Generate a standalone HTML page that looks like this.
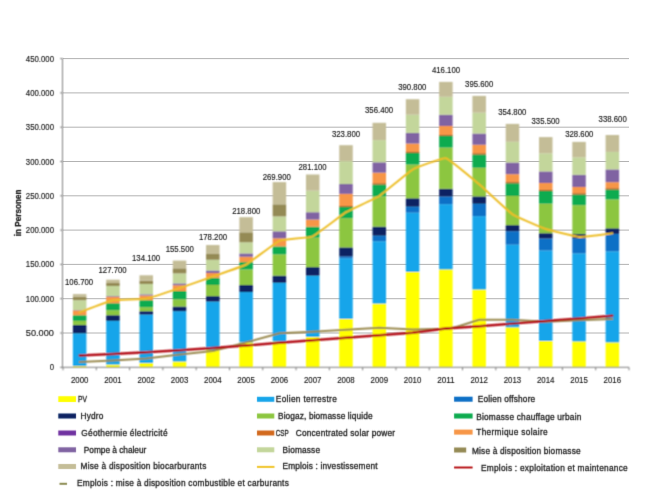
<!DOCTYPE html>
<html lang="fr"><head><meta charset="utf-8"><title>Emplois énergies renouvelables</title>
<style>html,body{margin:0;padding:0;background:#fff;}svg{display:block;}</style></head>
<body>
<svg width="663" height="497" viewBox="0 0 663 497" font-family="'Liberation Sans', sans-serif">
<rect width="663" height="497" fill="#ffffff"/>
<defs><filter id="soft" x="-2%" y="-2%" width="104%" height="104%"><feConvolveMatrix order="3" kernelMatrix="1 2 1 2 4 2 1 2 1" edgeMode="duplicate"/></filter><filter id="soft2" x="-2%" y="-2%" width="104%" height="104%"><feConvolveMatrix order="3" kernelMatrix="0 1 0 1 6 1 0 1 0" edgeMode="duplicate"/></filter></defs>
<line x1="63.0" x2="629.0" y1="333.00" y2="333.00" stroke="#b2b2b2" stroke-width="1"/>
<line x1="63.0" x2="629.0" y1="298.70" y2="298.70" stroke="#b2b2b2" stroke-width="1"/>
<line x1="63.0" x2="629.0" y1="264.40" y2="264.40" stroke="#b2b2b2" stroke-width="1"/>
<line x1="63.0" x2="629.0" y1="230.10" y2="230.10" stroke="#b2b2b2" stroke-width="1"/>
<line x1="63.0" x2="629.0" y1="195.80" y2="195.80" stroke="#b2b2b2" stroke-width="1"/>
<line x1="63.0" x2="629.0" y1="161.50" y2="161.50" stroke="#b2b2b2" stroke-width="1"/>
<line x1="63.0" x2="629.0" y1="127.20" y2="127.20" stroke="#b2b2b2" stroke-width="1"/>
<line x1="63.0" x2="629.0" y1="92.90" y2="92.90" stroke="#b2b2b2" stroke-width="1"/>
<line x1="63.0" x2="629.0" y1="58.60" y2="58.60" stroke="#b2b2b2" stroke-width="1"/>
<g filter="url(#soft)">
<g shape-rendering="auto">
<rect x="72.90" y="366.00" width="13.5" height="1.30" fill="#ffff00"/>
<rect x="72.90" y="333.30" width="13.5" height="32.70" fill="#16a5ea"/>
<rect x="72.90" y="324.90" width="13.5" height="8.40" fill="#082262"/>
<rect x="72.90" y="320.90" width="13.5" height="4.00" fill="#8cc63f"/>
<rect x="72.90" y="315.20" width="13.5" height="5.70" fill="#0cab4f"/>
<rect x="72.90" y="310.40" width="13.5" height="4.80" fill="#f79646"/>
<rect x="72.90" y="310.00" width="13.5" height="0.40" fill="#8064a2"/>
<rect x="72.90" y="300.20" width="13.5" height="9.80" fill="#c3d69b"/>
<rect x="72.90" y="296.70" width="13.5" height="3.50" fill="#948a54"/>
<rect x="72.90" y="294.10" width="13.5" height="2.60" fill="#c4bd97"/>
<rect x="106.19" y="364.60" width="13.5" height="2.70" fill="#ffff00"/>
<rect x="106.19" y="320.90" width="13.5" height="43.70" fill="#16a5ea"/>
<rect x="106.19" y="315.20" width="13.5" height="5.70" fill="#082262"/>
<rect x="106.19" y="310.20" width="13.5" height="5.00" fill="#8cc63f"/>
<rect x="106.19" y="303.20" width="13.5" height="7.00" fill="#0cab4f"/>
<rect x="106.19" y="296.90" width="13.5" height="6.30" fill="#f79646"/>
<rect x="106.19" y="296.10" width="13.5" height="0.80" fill="#8064a2"/>
<rect x="106.19" y="286.00" width="13.5" height="10.10" fill="#c3d69b"/>
<rect x="106.19" y="283.00" width="13.5" height="3.00" fill="#948a54"/>
<rect x="106.19" y="279.70" width="13.5" height="3.30" fill="#c4bd97"/>
<rect x="139.49" y="363.10" width="13.5" height="4.20" fill="#ffff00"/>
<rect x="139.49" y="314.60" width="13.5" height="48.50" fill="#16a5ea"/>
<rect x="139.49" y="311.20" width="13.5" height="3.40" fill="#082262"/>
<rect x="139.49" y="307.20" width="13.5" height="4.00" fill="#8cc63f"/>
<rect x="139.49" y="300.20" width="13.5" height="7.00" fill="#0cab4f"/>
<rect x="139.49" y="295.50" width="13.5" height="4.70" fill="#f79646"/>
<rect x="139.49" y="294.30" width="13.5" height="1.20" fill="#8064a2"/>
<rect x="139.49" y="284.00" width="13.5" height="10.30" fill="#c3d69b"/>
<rect x="139.49" y="280.60" width="13.5" height="3.40" fill="#948a54"/>
<rect x="139.49" y="275.30" width="13.5" height="5.30" fill="#c4bd97"/>
<rect x="172.78" y="361.50" width="13.5" height="5.80" fill="#ffff00"/>
<rect x="172.78" y="311.20" width="13.5" height="50.30" fill="#16a5ea"/>
<rect x="172.78" y="306.50" width="13.5" height="4.70" fill="#082262"/>
<rect x="172.78" y="299.30" width="13.5" height="7.20" fill="#8cc63f"/>
<rect x="172.78" y="291.00" width="13.5" height="8.30" fill="#0cab4f"/>
<rect x="172.78" y="285.20" width="13.5" height="5.80" fill="#f79646"/>
<rect x="172.78" y="283.40" width="13.5" height="1.80" fill="#8064a2"/>
<rect x="172.78" y="273.40" width="13.5" height="10.00" fill="#c3d69b"/>
<rect x="172.78" y="268.30" width="13.5" height="5.10" fill="#948a54"/>
<rect x="172.78" y="260.60" width="13.5" height="7.70" fill="#c4bd97"/>
<rect x="206.07" y="349.80" width="13.5" height="17.50" fill="#ffff00"/>
<rect x="206.07" y="301.60" width="13.5" height="48.20" fill="#16a5ea"/>
<rect x="206.07" y="296.10" width="13.5" height="5.50" fill="#082262"/>
<rect x="206.07" y="285.00" width="13.5" height="11.10" fill="#8cc63f"/>
<rect x="206.07" y="277.80" width="13.5" height="7.20" fill="#0cab4f"/>
<rect x="206.07" y="273.00" width="13.5" height="4.80" fill="#f79646"/>
<rect x="206.07" y="270.50" width="13.5" height="2.50" fill="#8064a2"/>
<rect x="206.07" y="259.80" width="13.5" height="10.70" fill="#c3d69b"/>
<rect x="206.07" y="254.00" width="13.5" height="5.80" fill="#948a54"/>
<rect x="206.07" y="245.05" width="13.5" height="8.95" fill="#c4bd97"/>
<rect x="239.37" y="342.40" width="13.5" height="24.90" fill="#ffff00"/>
<rect x="239.37" y="292.10" width="13.5" height="50.30" fill="#16a5ea"/>
<rect x="239.37" y="285.00" width="13.5" height="7.10" fill="#082262"/>
<rect x="239.37" y="269.50" width="13.5" height="15.50" fill="#8cc63f"/>
<rect x="239.37" y="262.10" width="13.5" height="7.40" fill="#0cab4f"/>
<rect x="239.37" y="256.80" width="13.5" height="5.30" fill="#f79646"/>
<rect x="239.37" y="253.40" width="13.5" height="3.40" fill="#8064a2"/>
<rect x="239.37" y="242.30" width="13.5" height="11.10" fill="#c3d69b"/>
<rect x="239.37" y="232.30" width="13.5" height="10.00" fill="#948a54"/>
<rect x="239.37" y="217.20" width="13.5" height="15.10" fill="#c4bd97"/>
<rect x="272.66" y="341.40" width="13.5" height="25.90" fill="#ffff00"/>
<rect x="272.66" y="282.80" width="13.5" height="58.60" fill="#16a5ea"/>
<rect x="272.66" y="275.60" width="13.5" height="7.20" fill="#082262"/>
<rect x="272.66" y="254.40" width="13.5" height="21.20" fill="#8cc63f"/>
<rect x="272.66" y="246.40" width="13.5" height="8.00" fill="#0cab4f"/>
<rect x="272.66" y="238.30" width="13.5" height="8.10" fill="#f79646"/>
<rect x="272.66" y="231.30" width="13.5" height="7.00" fill="#8064a2"/>
<rect x="272.66" y="216.40" width="13.5" height="14.90" fill="#c3d69b"/>
<rect x="272.66" y="204.30" width="13.5" height="12.10" fill="#948a54"/>
<rect x="272.66" y="182.10" width="13.5" height="22.20" fill="#c4bd97"/>
<rect x="305.96" y="337.00" width="13.5" height="30.30" fill="#ffff00"/>
<rect x="305.96" y="275.70" width="13.5" height="61.30" fill="#16a5ea"/>
<rect x="305.96" y="267.10" width="13.5" height="8.60" fill="#082262"/>
<rect x="305.96" y="237.70" width="13.5" height="29.40" fill="#8cc63f"/>
<rect x="305.96" y="226.70" width="13.5" height="11.00" fill="#0cab4f"/>
<rect x="305.96" y="219.60" width="13.5" height="7.10" fill="#f79646"/>
<rect x="305.96" y="212.20" width="13.5" height="7.40" fill="#8064a2"/>
<rect x="305.96" y="190.70" width="13.5" height="21.50" fill="#c3d69b"/>
<rect x="305.96" y="174.50" width="13.5" height="16.20" fill="#c4bd97"/>
<rect x="339.25" y="318.90" width="13.5" height="48.40" fill="#ffff00"/>
<rect x="339.25" y="258.40" width="13.5" height="60.50" fill="#16a5ea"/>
<rect x="339.25" y="256.40" width="13.5" height="2.00" fill="#0f6fc6"/>
<rect x="339.25" y="247.40" width="13.5" height="9.00" fill="#082262"/>
<rect x="339.25" y="218.20" width="13.5" height="29.20" fill="#8cc63f"/>
<rect x="339.25" y="207.00" width="13.5" height="11.20" fill="#0cab4f"/>
<rect x="339.25" y="193.90" width="13.5" height="13.10" fill="#f79646"/>
<rect x="339.25" y="206.30" width="13.5" height="0.7" fill="#6a4a28"/>
<rect x="339.25" y="184.00" width="13.5" height="9.90" fill="#8064a2"/>
<rect x="339.25" y="161.20" width="13.5" height="22.80" fill="#c3d69b"/>
<rect x="339.25" y="145.20" width="13.5" height="16.00" fill="#c4bd97"/>
<rect x="372.54" y="303.60" width="13.5" height="63.70" fill="#ffff00"/>
<rect x="372.54" y="241.30" width="13.5" height="62.30" fill="#16a5ea"/>
<rect x="372.54" y="235.70" width="13.5" height="5.60" fill="#0f6fc6"/>
<rect x="372.54" y="226.60" width="13.5" height="9.10" fill="#082262"/>
<rect x="372.54" y="196.30" width="13.5" height="30.30" fill="#8cc63f"/>
<rect x="372.54" y="184.40" width="13.5" height="11.90" fill="#0cab4f"/>
<rect x="372.54" y="172.70" width="13.5" height="11.70" fill="#f79646"/>
<rect x="372.54" y="183.70" width="13.5" height="0.7" fill="#6a4a28"/>
<rect x="372.54" y="162.30" width="13.5" height="10.40" fill="#8064a2"/>
<rect x="372.54" y="140.10" width="13.5" height="22.20" fill="#c3d69b"/>
<rect x="372.54" y="122.80" width="13.5" height="17.30" fill="#c4bd97"/>
<rect x="405.84" y="271.90" width="13.5" height="95.40" fill="#ffff00"/>
<rect x="405.84" y="212.70" width="13.5" height="59.20" fill="#16a5ea"/>
<rect x="405.84" y="206.70" width="13.5" height="6.00" fill="#0f6fc6"/>
<rect x="405.84" y="198.30" width="13.5" height="8.40" fill="#082262"/>
<rect x="405.84" y="164.60" width="13.5" height="33.70" fill="#8cc63f"/>
<rect x="405.84" y="153.00" width="13.5" height="11.60" fill="#0cab4f"/>
<rect x="405.84" y="143.60" width="13.5" height="9.40" fill="#f79646"/>
<rect x="405.84" y="152.30" width="13.5" height="0.7" fill="#6a4a28"/>
<rect x="405.84" y="132.90" width="13.5" height="10.70" fill="#8064a2"/>
<rect x="405.84" y="114.70" width="13.5" height="18.20" fill="#c3d69b"/>
<rect x="405.84" y="99.20" width="13.5" height="15.50" fill="#c4bd97"/>
<rect x="439.13" y="269.40" width="13.5" height="97.90" fill="#ffff00"/>
<rect x="439.13" y="204.20" width="13.5" height="65.20" fill="#16a5ea"/>
<rect x="439.13" y="196.50" width="13.5" height="7.70" fill="#0f6fc6"/>
<rect x="439.13" y="188.70" width="13.5" height="7.80" fill="#082262"/>
<rect x="439.13" y="147.60" width="13.5" height="41.10" fill="#8cc63f"/>
<rect x="439.13" y="135.80" width="13.5" height="11.80" fill="#0cab4f"/>
<rect x="439.13" y="126.00" width="13.5" height="9.80" fill="#f79646"/>
<rect x="439.13" y="135.10" width="13.5" height="0.7" fill="#6a4a28"/>
<rect x="439.13" y="114.70" width="13.5" height="11.30" fill="#8064a2"/>
<rect x="439.13" y="96.80" width="13.5" height="17.90" fill="#c3d69b"/>
<rect x="439.13" y="81.90" width="13.5" height="14.90" fill="#c4bd97"/>
<rect x="472.43" y="289.50" width="13.5" height="77.80" fill="#ffff00"/>
<rect x="472.43" y="216.10" width="13.5" height="73.40" fill="#16a5ea"/>
<rect x="472.43" y="203.80" width="13.5" height="12.30" fill="#0f6fc6"/>
<rect x="472.43" y="196.40" width="13.5" height="7.40" fill="#082262"/>
<rect x="472.43" y="167.80" width="13.5" height="28.60" fill="#8cc63f"/>
<rect x="472.43" y="154.40" width="13.5" height="13.40" fill="#0cab4f"/>
<rect x="472.43" y="144.80" width="13.5" height="9.60" fill="#f79646"/>
<rect x="472.43" y="153.70" width="13.5" height="0.7" fill="#6a4a28"/>
<rect x="472.43" y="133.50" width="13.5" height="11.30" fill="#8064a2"/>
<rect x="472.43" y="112.70" width="13.5" height="20.80" fill="#c3d69b"/>
<rect x="472.43" y="95.90" width="13.5" height="16.80" fill="#c4bd97"/>
<rect x="505.72" y="327.30" width="13.5" height="40.00" fill="#ffff00"/>
<rect x="505.72" y="244.70" width="13.5" height="82.60" fill="#16a5ea"/>
<rect x="505.72" y="231.20" width="13.5" height="13.50" fill="#0f6fc6"/>
<rect x="505.72" y="225.10" width="13.5" height="6.10" fill="#082262"/>
<rect x="505.72" y="196.00" width="13.5" height="29.10" fill="#8cc63f"/>
<rect x="505.72" y="183.20" width="13.5" height="12.80" fill="#0cab4f"/>
<rect x="505.72" y="174.20" width="13.5" height="9.00" fill="#f79646"/>
<rect x="505.72" y="182.50" width="13.5" height="0.7" fill="#6a4a28"/>
<rect x="505.72" y="162.50" width="13.5" height="11.70" fill="#8064a2"/>
<rect x="505.72" y="141.80" width="13.5" height="20.70" fill="#c3d69b"/>
<rect x="505.72" y="123.90" width="13.5" height="17.90" fill="#c4bd97"/>
<rect x="539.01" y="341.00" width="13.5" height="26.30" fill="#ffff00"/>
<rect x="539.01" y="250.50" width="13.5" height="90.50" fill="#16a5ea"/>
<rect x="539.01" y="238.50" width="13.5" height="12.00" fill="#0f6fc6"/>
<rect x="539.01" y="233.20" width="13.5" height="5.30" fill="#082262"/>
<rect x="539.01" y="203.70" width="13.5" height="29.50" fill="#8cc63f"/>
<rect x="539.01" y="191.00" width="13.5" height="12.70" fill="#0cab4f"/>
<rect x="539.01" y="183.00" width="13.5" height="8.00" fill="#f79646"/>
<rect x="539.01" y="190.30" width="13.5" height="0.7" fill="#6a4a28"/>
<rect x="539.01" y="171.40" width="13.5" height="11.60" fill="#8064a2"/>
<rect x="539.01" y="153.30" width="13.5" height="18.10" fill="#c3d69b"/>
<rect x="539.01" y="137.10" width="13.5" height="16.20" fill="#c4bd97"/>
<rect x="572.31" y="341.40" width="13.5" height="25.90" fill="#ffff00"/>
<rect x="572.31" y="253.40" width="13.5" height="88.00" fill="#16a5ea"/>
<rect x="572.31" y="238.40" width="13.5" height="15.00" fill="#0f6fc6"/>
<rect x="572.31" y="233.90" width="13.5" height="4.50" fill="#082262"/>
<rect x="572.31" y="205.20" width="13.5" height="28.70" fill="#8cc63f"/>
<rect x="572.31" y="194.40" width="13.5" height="10.80" fill="#0cab4f"/>
<rect x="572.31" y="187.00" width="13.5" height="7.40" fill="#f79646"/>
<rect x="572.31" y="193.70" width="13.5" height="0.7" fill="#6a4a28"/>
<rect x="572.31" y="174.80" width="13.5" height="12.20" fill="#8064a2"/>
<rect x="572.31" y="157.30" width="13.5" height="17.50" fill="#c3d69b"/>
<rect x="572.31" y="141.90" width="13.5" height="15.40" fill="#c4bd97"/>
<rect x="605.60" y="342.40" width="13.5" height="24.90" fill="#ffff00"/>
<rect x="605.60" y="251.40" width="13.5" height="91.00" fill="#16a5ea"/>
<rect x="605.60" y="233.90" width="13.5" height="17.50" fill="#0f6fc6"/>
<rect x="605.60" y="228.30" width="13.5" height="5.60" fill="#082262"/>
<rect x="605.60" y="199.50" width="13.5" height="28.80" fill="#8cc63f"/>
<rect x="605.60" y="189.40" width="13.5" height="10.10" fill="#0cab4f"/>
<rect x="605.60" y="182.20" width="13.5" height="7.20" fill="#f79646"/>
<rect x="605.60" y="188.70" width="13.5" height="0.7" fill="#6a4a28"/>
<rect x="605.60" y="169.40" width="13.5" height="12.80" fill="#8064a2"/>
<rect x="605.60" y="151.90" width="13.5" height="17.50" fill="#c3d69b"/>
<rect x="605.60" y="135.00" width="13.5" height="16.90" fill="#c4bd97"/>
</g>
<line x1="62.5" x2="62.5" y1="58.60" y2="367.8" stroke="#808080" stroke-width="1"/>
<line x1="62.5" x2="629.0" y1="367.3" y2="367.3" stroke="#808080" stroke-width="1"/>
<line x1="60.0" x2="63.0" y1="367.30" y2="367.30" stroke="#808080" stroke-width="1"/>
<line x1="60.0" x2="63.0" y1="333.00" y2="333.00" stroke="#808080" stroke-width="1"/>
<line x1="60.0" x2="63.0" y1="298.70" y2="298.70" stroke="#808080" stroke-width="1"/>
<line x1="60.0" x2="63.0" y1="264.40" y2="264.40" stroke="#808080" stroke-width="1"/>
<line x1="60.0" x2="63.0" y1="230.10" y2="230.10" stroke="#808080" stroke-width="1"/>
<line x1="60.0" x2="63.0" y1="195.80" y2="195.80" stroke="#808080" stroke-width="1"/>
<line x1="60.0" x2="63.0" y1="161.50" y2="161.50" stroke="#808080" stroke-width="1"/>
<line x1="60.0" x2="63.0" y1="127.20" y2="127.20" stroke="#808080" stroke-width="1"/>
<line x1="60.0" x2="63.0" y1="92.90" y2="92.90" stroke="#808080" stroke-width="1"/>
<line x1="60.0" x2="63.0" y1="58.60" y2="58.60" stroke="#808080" stroke-width="1"/>
<line x1="63.00" x2="63.00" y1="367.3" y2="370.3" stroke="#808080" stroke-width="1"/>
<line x1="96.29" x2="96.29" y1="367.3" y2="370.3" stroke="#808080" stroke-width="1"/>
<line x1="129.59" x2="129.59" y1="367.3" y2="370.3" stroke="#808080" stroke-width="1"/>
<line x1="162.88" x2="162.88" y1="367.3" y2="370.3" stroke="#808080" stroke-width="1"/>
<line x1="196.18" x2="196.18" y1="367.3" y2="370.3" stroke="#808080" stroke-width="1"/>
<line x1="229.47" x2="229.47" y1="367.3" y2="370.3" stroke="#808080" stroke-width="1"/>
<line x1="262.76" x2="262.76" y1="367.3" y2="370.3" stroke="#808080" stroke-width="1"/>
<line x1="296.06" x2="296.06" y1="367.3" y2="370.3" stroke="#808080" stroke-width="1"/>
<line x1="329.35" x2="329.35" y1="367.3" y2="370.3" stroke="#808080" stroke-width="1"/>
<line x1="362.65" x2="362.65" y1="367.3" y2="370.3" stroke="#808080" stroke-width="1"/>
<line x1="395.94" x2="395.94" y1="367.3" y2="370.3" stroke="#808080" stroke-width="1"/>
<line x1="429.24" x2="429.24" y1="367.3" y2="370.3" stroke="#808080" stroke-width="1"/>
<line x1="462.53" x2="462.53" y1="367.3" y2="370.3" stroke="#808080" stroke-width="1"/>
<line x1="495.82" x2="495.82" y1="367.3" y2="370.3" stroke="#808080" stroke-width="1"/>
<line x1="529.12" x2="529.12" y1="367.3" y2="370.3" stroke="#808080" stroke-width="1"/>
<line x1="562.41" x2="562.41" y1="367.3" y2="370.3" stroke="#808080" stroke-width="1"/>
<line x1="595.71" x2="595.71" y1="367.3" y2="370.3" stroke="#808080" stroke-width="1"/>
<line x1="629.00" x2="629.00" y1="367.3" y2="370.3" stroke="#808080" stroke-width="1"/>
<path d="M79.65,361.90 L112.94,360.50 L146.24,358.50 L179.53,354.50 L212.82,351.00 L246.12,342.40 L279.41,333.30 L312.71,331.70 L346.00,329.70 L379.29,327.70 L412.59,329.40 L445.88,328.70 L455.50,327.30 L479.18,319.80 L512.47,319.80 L545.76,321.70 L579.06,320.30 L612.35,318.90" fill="none" stroke="#9a8a50" stroke-width="2" stroke-linejoin="round" stroke-linecap="round"/>
<path d="M79.65,355.50 L112.94,354.00 L146.24,352.30 L179.53,350.30 L212.82,348.00 L246.12,345.50 L279.41,342.80 L312.71,340.30 L346.00,337.80 L379.29,335.20 L412.59,332.70 L445.88,328.50 L479.18,326.20 L512.47,323.60 L545.76,321.00 L579.06,318.40 L612.35,315.80" fill="none" stroke="#b41018" stroke-width="2.4" stroke-linejoin="round" stroke-linecap="round"/>
<path d="M79.65,312.20 C81.31,311.60 109.61,300.88 112.94,300.20 C116.27,299.52 142.91,299.31 146.24,298.70 C149.56,298.09 176.20,289.21 179.53,288.10 C182.86,286.99 209.49,277.68 212.82,276.50 C216.15,275.32 242.79,266.29 246.12,264.50 C249.45,262.71 276.08,242.21 279.41,240.80 C282.74,239.39 309.38,237.73 312.71,236.30 C316.04,234.87 342.67,214.21 346.00,212.20 C349.33,210.19 375.96,198.13 379.29,196.00 C382.62,193.87 409.26,171.49 412.59,169.60 C415.92,167.71 442.55,157.46 445.88,158.20 C449.21,158.94 475.85,181.50 479.18,184.30 C482.51,187.11 509.14,212.06 512.47,214.30 C515.80,216.54 542.44,227.87 545.76,229.00 C549.09,230.13 575.73,236.69 579.06,236.90 C582.39,237.12 610.69,233.48 612.35,233.30" fill="none" stroke="#edbe26" stroke-width="2" stroke-linejoin="round" stroke-linecap="round"/>
</g>
<g filter="url(#soft2)">
<text x="49.70" y="370.30" font-size="8.6" fill="#1a1a1a" stroke="#1a1a1a" stroke-width="0.15" textLength="4.3" lengthAdjust="spacingAndGlyphs">0</text>
<text x="25.80" y="336.00" font-size="8.6" fill="#1a1a1a" stroke="#1a1a1a" stroke-width="0.15" textLength="28.2" lengthAdjust="spacingAndGlyphs">50.000</text>
<text x="25.80" y="301.70" font-size="8.6" fill="#1a1a1a" stroke="#1a1a1a" stroke-width="0.15" textLength="28.2" lengthAdjust="spacingAndGlyphs">100.000</text>
<text x="25.80" y="267.40" font-size="8.6" fill="#1a1a1a" stroke="#1a1a1a" stroke-width="0.15" textLength="28.2" lengthAdjust="spacingAndGlyphs">150.000</text>
<text x="25.80" y="233.10" font-size="8.6" fill="#1a1a1a" stroke="#1a1a1a" stroke-width="0.15" textLength="28.2" lengthAdjust="spacingAndGlyphs">200.000</text>
<text x="25.80" y="198.80" font-size="8.6" fill="#1a1a1a" stroke="#1a1a1a" stroke-width="0.15" textLength="28.2" lengthAdjust="spacingAndGlyphs">250.000</text>
<text x="25.80" y="164.50" font-size="8.6" fill="#1a1a1a" stroke="#1a1a1a" stroke-width="0.15" textLength="28.2" lengthAdjust="spacingAndGlyphs">300.000</text>
<text x="25.80" y="130.20" font-size="8.6" fill="#1a1a1a" stroke="#1a1a1a" stroke-width="0.15" textLength="28.2" lengthAdjust="spacingAndGlyphs">350.000</text>
<text x="25.80" y="95.90" font-size="8.6" fill="#1a1a1a" stroke="#1a1a1a" stroke-width="0.15" textLength="28.2" lengthAdjust="spacingAndGlyphs">400.000</text>
<text x="25.80" y="61.60" font-size="8.6" fill="#1a1a1a" stroke="#1a1a1a" stroke-width="0.15" textLength="28.2" lengthAdjust="spacingAndGlyphs">450.000</text>
<text x="70.90" y="382.60" font-size="8.6" fill="#1a1a1a" stroke="#1a1a1a" stroke-width="0.15" textLength="17.5" lengthAdjust="spacingAndGlyphs">2000</text>
<text x="104.19" y="382.60" font-size="8.6" fill="#1a1a1a" stroke="#1a1a1a" stroke-width="0.15" textLength="17.5" lengthAdjust="spacingAndGlyphs">2001</text>
<text x="137.49" y="382.60" font-size="8.6" fill="#1a1a1a" stroke="#1a1a1a" stroke-width="0.15" textLength="17.5" lengthAdjust="spacingAndGlyphs">2002</text>
<text x="170.78" y="382.60" font-size="8.6" fill="#1a1a1a" stroke="#1a1a1a" stroke-width="0.15" textLength="17.5" lengthAdjust="spacingAndGlyphs">2003</text>
<text x="204.07" y="382.60" font-size="8.6" fill="#1a1a1a" stroke="#1a1a1a" stroke-width="0.15" textLength="17.5" lengthAdjust="spacingAndGlyphs">2004</text>
<text x="237.37" y="382.60" font-size="8.6" fill="#1a1a1a" stroke="#1a1a1a" stroke-width="0.15" textLength="17.5" lengthAdjust="spacingAndGlyphs">2005</text>
<text x="270.66" y="382.60" font-size="8.6" fill="#1a1a1a" stroke="#1a1a1a" stroke-width="0.15" textLength="17.5" lengthAdjust="spacingAndGlyphs">2006</text>
<text x="303.96" y="382.60" font-size="8.6" fill="#1a1a1a" stroke="#1a1a1a" stroke-width="0.15" textLength="17.5" lengthAdjust="spacingAndGlyphs">2007</text>
<text x="337.25" y="382.60" font-size="8.6" fill="#1a1a1a" stroke="#1a1a1a" stroke-width="0.15" textLength="17.5" lengthAdjust="spacingAndGlyphs">2008</text>
<text x="370.54" y="382.60" font-size="8.6" fill="#1a1a1a" stroke="#1a1a1a" stroke-width="0.15" textLength="17.5" lengthAdjust="spacingAndGlyphs">2009</text>
<text x="403.84" y="382.60" font-size="8.6" fill="#1a1a1a" stroke="#1a1a1a" stroke-width="0.15" textLength="17.5" lengthAdjust="spacingAndGlyphs">2010</text>
<text x="437.13" y="382.60" font-size="8.6" fill="#1a1a1a" stroke="#1a1a1a" stroke-width="0.15" textLength="17.5" lengthAdjust="spacingAndGlyphs">2011</text>
<text x="470.43" y="382.60" font-size="8.6" fill="#1a1a1a" stroke="#1a1a1a" stroke-width="0.15" textLength="17.5" lengthAdjust="spacingAndGlyphs">2012</text>
<text x="503.72" y="382.60" font-size="8.6" fill="#1a1a1a" stroke="#1a1a1a" stroke-width="0.15" textLength="17.5" lengthAdjust="spacingAndGlyphs">2013</text>
<text x="537.01" y="382.60" font-size="8.6" fill="#1a1a1a" stroke="#1a1a1a" stroke-width="0.15" textLength="17.5" lengthAdjust="spacingAndGlyphs">2014</text>
<text x="570.31" y="382.60" font-size="8.6" fill="#1a1a1a" stroke="#1a1a1a" stroke-width="0.15" textLength="17.5" lengthAdjust="spacingAndGlyphs">2015</text>
<text x="603.60" y="382.60" font-size="8.6" fill="#1a1a1a" stroke="#1a1a1a" stroke-width="0.15" textLength="17.5" lengthAdjust="spacingAndGlyphs">2016</text>
<text x="65.00" y="285.00" font-size="8.6" fill="#1a1a1a" stroke="#1a1a1a" stroke-width="0.15" textLength="28.2" lengthAdjust="spacingAndGlyphs">106.700</text>
<text x="98.50" y="273.30" font-size="8.6" fill="#1a1a1a" stroke="#1a1a1a" stroke-width="0.15" textLength="28.2" lengthAdjust="spacingAndGlyphs">127.700</text>
<text x="132.00" y="261.00" font-size="8.6" fill="#1a1a1a" stroke="#1a1a1a" stroke-width="0.15" textLength="28.2" lengthAdjust="spacingAndGlyphs">134.100</text>
<text x="165.70" y="252.00" font-size="8.6" fill="#1a1a1a" stroke="#1a1a1a" stroke-width="0.15" textLength="28.2" lengthAdjust="spacingAndGlyphs">155.500</text>
<text x="198.90" y="239.90" font-size="8.6" fill="#1a1a1a" stroke="#1a1a1a" stroke-width="0.15" textLength="28.2" lengthAdjust="spacingAndGlyphs">178.200</text>
<text x="232.20" y="213.50" font-size="8.6" fill="#1a1a1a" stroke="#1a1a1a" stroke-width="0.15" textLength="28.2" lengthAdjust="spacingAndGlyphs">218.800</text>
<text x="262.70" y="180.30" font-size="8.6" fill="#1a1a1a" stroke="#1a1a1a" stroke-width="0.15" textLength="28.2" lengthAdjust="spacingAndGlyphs">269.900</text>
<text x="298.50" y="170.30" font-size="8.6" fill="#1a1a1a" stroke="#1a1a1a" stroke-width="0.15" textLength="28.2" lengthAdjust="spacingAndGlyphs">281.100</text>
<text x="331.90" y="136.70" font-size="8.6" fill="#1a1a1a" stroke="#1a1a1a" stroke-width="0.15" textLength="28.2" lengthAdjust="spacingAndGlyphs">323.800</text>
<text x="365.00" y="113.30" font-size="8.6" fill="#1a1a1a" stroke="#1a1a1a" stroke-width="0.15" textLength="28.2" lengthAdjust="spacingAndGlyphs">356.400</text>
<text x="398.20" y="89.80" font-size="8.6" fill="#1a1a1a" stroke="#1a1a1a" stroke-width="0.15" textLength="28.2" lengthAdjust="spacingAndGlyphs">390.800</text>
<text x="431.90" y="72.70" font-size="8.6" fill="#1a1a1a" stroke="#1a1a1a" stroke-width="0.15" textLength="28.2" lengthAdjust="spacingAndGlyphs">416.100</text>
<text x="465.10" y="87.10" font-size="8.6" fill="#1a1a1a" stroke="#1a1a1a" stroke-width="0.15" textLength="28.2" lengthAdjust="spacingAndGlyphs">395.600</text>
<text x="498.20" y="114.70" font-size="8.6" fill="#1a1a1a" stroke="#1a1a1a" stroke-width="0.15" textLength="28.2" lengthAdjust="spacingAndGlyphs">354.800</text>
<text x="531.50" y="123.50" font-size="8.6" fill="#1a1a1a" stroke="#1a1a1a" stroke-width="0.15" textLength="28.2" lengthAdjust="spacingAndGlyphs">335.500</text>
<text x="565.20" y="136.80" font-size="8.6" fill="#1a1a1a" stroke="#1a1a1a" stroke-width="0.15" textLength="28.2" lengthAdjust="spacingAndGlyphs">328.600</text>
<text x="598.60" y="121.50" font-size="8.6" fill="#1a1a1a" stroke="#1a1a1a" stroke-width="0.15" textLength="28.2" lengthAdjust="spacingAndGlyphs">338.600</text>
<text transform="translate(21.2,236.2) rotate(-90)" font-size="8.4" font-weight="bold" fill="#222" stroke="#222" stroke-width="0.25" textLength="46.6" lengthAdjust="spacingAndGlyphs">in Personen</text>
<rect x="58.3" y="396.20" width="17.70" height="5.8" fill="#ffff00"/>
<text x="78.00" y="402.30" font-size="8.3" fill="#1e1e1e" stroke="#1e1e1e" stroke-width="0.3" textLength="9.00" lengthAdjust="spacingAndGlyphs">PV</text>
<rect x="58.3" y="413.50" width="17.70" height="5" fill="#082262"/>
<text x="80.50" y="419.40" font-size="8.3" fill="#1e1e1e" stroke="#1e1e1e" stroke-width="0.3" textLength="22.80" lengthAdjust="spacing">Hydro</text>
<rect x="58.3" y="430.50" width="17.70" height="5" fill="#7030a0"/>
<text x="81.30" y="436.30" font-size="8.3" fill="#1e1e1e" stroke="#1e1e1e" stroke-width="0.3" textLength="86.20" lengthAdjust="spacing">Géothermie électricité</text>
<rect x="58.3" y="447.30" width="17.70" height="5" fill="#8064a2"/>
<text x="83.80" y="452.50" font-size="8.3" fill="#1e1e1e" stroke="#1e1e1e" stroke-width="0.3" textLength="62.50" lengthAdjust="spacing">Pompe à chaleur</text>
<rect x="58.3" y="464.00" width="17.70" height="5" fill="#c4bd97"/>
<text x="80.50" y="468.70" font-size="8.3" fill="#1e1e1e" stroke="#1e1e1e" stroke-width="0.3" textLength="125.80" lengthAdjust="spacing">Mise à disposition biocarburants</text>
<line x1="59.5" x2="67" y1="483.8" y2="483.8" stroke="#8a8a50" stroke-width="2"/>
<text x="77.00" y="486.00" font-size="8.3" fill="#1e1e1e" stroke="#1e1e1e" stroke-width="0.3" textLength="211.80" lengthAdjust="spacing">Emplois : mise à disposition combustible et carburants</text>
<rect x="257" y="396.80" width="17.30" height="5" fill="#16a5ea"/>
<text x="275.80" y="401.70" font-size="8.3" fill="#1e1e1e" stroke="#1e1e1e" stroke-width="0.3" textLength="61.00" lengthAdjust="spacing">Eolien terrestre</text>
<rect x="257" y="413.50" width="17.30" height="5" fill="#8cc63f"/>
<text x="278.00" y="419.00" font-size="8.3" fill="#1e1e1e" stroke="#1e1e1e" stroke-width="0.3" textLength="94.50" lengthAdjust="spacing">Biogaz, biomasse liquide</text>
<rect x="257" y="430.50" width="17.30" height="5" fill="#d2691e"/>
<text x="275.80" y="435.60" font-size="8.3" fill="#1e1e1e" stroke="#1e1e1e" stroke-width="0.3" textLength="13.00" lengthAdjust="spacingAndGlyphs">CSP</text>
<text x="295.75" y="435.60" font-size="8.3" fill="#1e1e1e" stroke="#1e1e1e" stroke-width="0.3" textLength="99.25" lengthAdjust="spacing">Concentrated solar power</text>
<rect x="257" y="447.30" width="17.30" height="5" fill="#c3d69b"/>
<text x="282.50" y="453.20" font-size="8.3" fill="#1e1e1e" stroke="#1e1e1e" stroke-width="0.3" textLength="37.50" lengthAdjust="spacing">Biomasse</text>
<line x1="257" x2="274.5" y1="466.9" y2="466.9" stroke="#f0c428" stroke-width="2"/>
<text x="282.50" y="468.90" font-size="8.3" fill="#1e1e1e" stroke="#1e1e1e" stroke-width="0.3" textLength="95.00" lengthAdjust="spacing">Emplois : investissement</text>
<rect x="454.1" y="396.70" width="18.50" height="5" fill="#0f6fc6"/>
<text x="477.70" y="402.00" font-size="8.3" fill="#1e1e1e" stroke="#1e1e1e" stroke-width="0.3" textLength="57.50" lengthAdjust="spacing">Eolien offshore</text>
<rect x="454.1" y="413.50" width="18.50" height="5" fill="#0cab4f"/>
<text x="476.30" y="419.60" font-size="8.3" fill="#1e1e1e" stroke="#1e1e1e" stroke-width="0.3" textLength="105.00" lengthAdjust="spacing">Biomasse chauffage urbain</text>
<rect x="454.1" y="429.60" width="18.50" height="5" fill="#f79646"/>
<text x="476.30" y="434.90" font-size="8.3" fill="#1e1e1e" stroke="#1e1e1e" stroke-width="0.3" textLength="71.30" lengthAdjust="spacing">Thermique solaire</text>
<rect x="454.1" y="447.50" width="12.10" height="5" fill="#948a54"/>
<text x="472.00" y="453.60" font-size="8.3" fill="#1e1e1e" stroke="#1e1e1e" stroke-width="0.3" textLength="108.60" lengthAdjust="spacing">Mise à disposition biomasse</text>
<line x1="454.1" x2="472.6" y1="467.5" y2="467.5" stroke="#b8141a" stroke-width="2"/>
<text x="481.00" y="470.50" font-size="8.3" fill="#1e1e1e" stroke="#1e1e1e" stroke-width="0.3" textLength="146.70" lengthAdjust="spacing">Emplois : exploitation et maintenance</text>
</g>
</svg>
</body></html>
